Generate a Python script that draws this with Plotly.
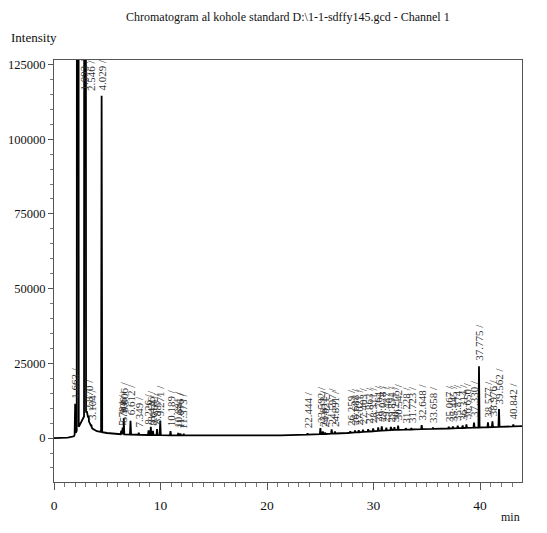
import numpy as np
import plotly.graph_objects as go

# ---- data ----
peak_times = [1.663, 1.893, 2.546, 2.870, 3.104, 4.029, 5.784, 5.906, 6.006, 6.612,
              7.349, 8.226, 8.426, 8.618, 8.987, 9.271, 10.189, 10.881, 11.076, 11.373,
              22.444, 23.592, 23.812, 24.021, 24.597, 24.891, 26.259, 26.688, 27.021,
              27.403, 27.863, 28.311, 28.764, 29.078, 29.487, 29.894, 30.211, 30.542,
              31.228, 31.723, 32.648, 33.658, 35.067, 35.445, 35.874, 36.314, 36.650,
              37.330, 37.775, 38.577, 38.976, 39.562, 40.842]
peak_heights = [11500, 900000, 900000, 7500, 4500, 114500, 2500, 3500, 6700, 5800,
                1800, 2600, 3800, 2400, 3000, 5700, 2300, 1700, 1500, 1400,
                1600, 3300, 2200, 1800, 2900, 2200, 2300, 2500, 2600,
                2800, 3000, 3200, 3600, 3900, 3500, 3700, 3600, 4200,
                3300, 3300, 4300, 3500, 3800, 3900, 4100, 4200, 4600,
                5200, 24000, 5300, 5600, 9700, 4500]

baseline_times = [-0.23, 1.0, 1.55, 2.70, 2.90, 3.20, 3.60, 4.50, 6.0, 10.0, 15.0, 20.0,
                  23.0, 26.0, 28.0, 30.0, 32.0, 35.0, 37.5, 41.62]
baseline_values = [0, 150, 600, 9000, 5500, 3200, 2300, 1700, 1200, 900, 800, 900,
                   1200, 1700, 2200, 2700, 2900, 3200, 3500, 4000]

# x-axis tick labels as printed in the reference and where they sit (in minutes of the trace)
x_tick_text = ["0", "10", "20", "30", "40"]
x_tick_pos = [-0.23, 9.29, 18.82, 28.35, 37.87]
y_tick_vals = [0, 25000, 50000, 75000, 100000, 125000]

# ---- build trace ----
pts = {}
for t, v in zip(baseline_times, baseline_values):
    pts[t] = v
for t, h in zip(peak_times, peak_heights):
    w = 0.09 if h > 200000 else 0.05
    for tt in (t - w, t + w):
        pts[round(tt, 4)] = float(np.interp(tt, baseline_times, baseline_values))
    pts[t] = h
xs = sorted(pts)
ys = [pts[x] for x in xs]

fig = go.Figure()
fig.add_trace(go.Scatter(x=xs, y=ys, mode="lines",
                         line=dict(color="black", width=1.8), hoverinfo="skip"))

# peak labels
for t, h in zip(peak_times, peak_heights):
    off = h > 120000
    fig.add_annotation(x=t, y=115500 if off else h, text=f"{t:.3f} /",
                       textangle=-90, showarrow=False, xanchor="center", yanchor="bottom",
                       xshift=6 if off else 0, yshift=0 if off else 3,
                       font=dict(family="Liberation Serif", size=11, color="#333"))

fig.add_annotation(text="Chromatogram al kohole standard D:\\1-1-sdffy145.gcd - Channel 1",
                   xref="paper", yref="paper", x=0.5, y=1, yshift=43, showarrow=False,
                   xanchor="center", yanchor="middle",
                   font=dict(family="Liberation Serif", size=12, color="#111"))
fig.add_annotation(text="Intensity", xref="paper", yref="paper", x=0, y=1,
                   xshift=-45, yshift=23, showarrow=False, xanchor="left",
                   yanchor="middle", font=dict(family="Liberation Serif", size=13, color="#111"))
fig.add_annotation(text="min", xref="paper", yref="paper", x=1, y=0,
                   xshift=0, yshift=-35, showarrow=False, xanchor="right",
                   yanchor="middle", font=dict(family="Liberation Serif", size=12, color="#111"))

axis_font = dict(family="Liberation Serif", size=12.5, color="#111")
fig.update_xaxes(range=[-0.23, 41.62], tickmode="array", tickvals=x_tick_pos,
                 ticktext=x_tick_text, ticks="outside", ticklen=7, tickcolor="#555",
                 showline=True, linecolor="#555", linewidth=1, mirror=True,
                 showgrid=False, zeroline=False, tickfont=dict(axis_font, size=13.5),
                 ticklabelstandoff=4, automargin=False,
                 minor=dict(tickmode="linear", tick0=-0.23, dtick=0.9525,
                            ticks="outside", ticklen=4, tickcolor="#777", showgrid=False))
fig.update_yaxes(range=[-14700, 126500], tickmode="array", tickvals=y_tick_vals,
                 tickformat="d", automargin=False,
                 ticks="outside", ticklen=5, tickcolor="#555",
                 showline=True, linecolor="#555", linewidth=1, mirror=True,
                 showgrid=False, zeroline=False, tickfont=axis_font,
                 minor=dict(tickmode="linear", tick0=0, dtick=5000,
                            ticks="outside", ticklen=3, tickcolor="#777", showgrid=False))
fig.update_layout(width=547, height=533, margin=dict(l=54, r=25, t=60, b=51),
                  paper_bgcolor="white", plot_bgcolor="white", showlegend=False)

fig.write_html("out.html")
